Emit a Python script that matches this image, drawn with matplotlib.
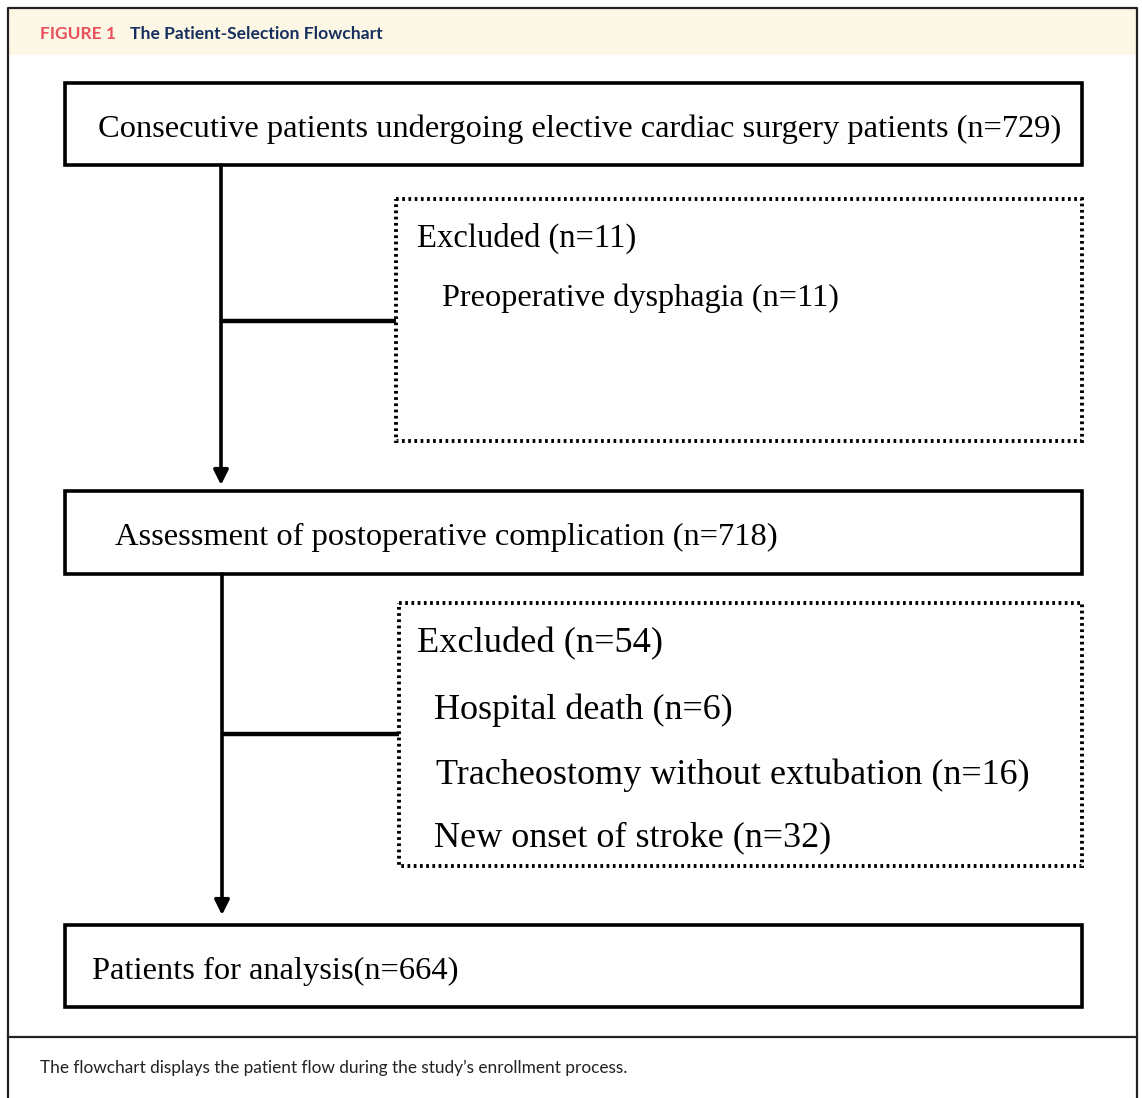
import matplotlib
matplotlib.use('Agg')
import matplotlib.pyplot as plt
from matplotlib.patches import Rectangle

# --- chart content ---
header_tag = "FIGURE 1"
header_title = "The Patient-Selection Flowchart"
caption = "The flowchart displays the patient flow during the study\u2019s enrollment process."

main_boxes = [
    "Consecutive patients undergoing elective cardiac surgery patients (n=729)",
    "Assessment of postoperative complication (n=718)",
    "Patients for analysis(n=664)",
]
excl_titles = ["Excluded (n=11)", "Excluded (n=54)"]
excl_items = [
    ["Preoperative dysphagia (n=11)"],
    ["Hospital death (n=6)",
     "Tracheostomy without extubation (n=16)",
     "New onset of stroke (n=32)"],
]

W, H = 1142, 1098
fig = plt.figure(figsize=(W / 100, H / 100), dpi=100)
ax = fig.add_axes([0, 0, 1, 1])
ax.set_xlim(0, W)
ax.set_ylim(H, 0)
ax.axis('off')

SERIF = 'Liberation Serif'
SANS = 'Lato'
DY = 4  # text vertical nudge

# outer frame + header band
ax.add_patch(Rectangle((8, 8), 1129, 47, facecolor='#fdf7e5', edgecolor='none', zorder=0))
ax.plot([8, 8, 1137, 1137], [H + 5, 8, 8, H + 5], color='#222222', lw=1.6, zorder=3)
ax.plot([8, 1137], [1037, 1037], color='#222222', lw=1.6)
ax.text(40, 34, header_tag, color='#e9505c', fontsize=12.5, fontweight='bold',
        family=SANS, va='center')
ax.text(130, 34, header_title, color='#17305e', fontsize=12.6, fontweight='bold',
        family=SANS, va='center')
ax.text(40, 1068, caption, color='#222222', fontsize=12.4, family=SANS, va='center')

# main boxes
box_y = [(83, 165), (491, 574), (925, 1007)]
box_tx = [98, 115, 92]
for (y0, y1), tx, label in zip(box_y, box_tx, main_boxes):
    ax.add_patch(Rectangle((65, y0), 1082 - 65, y1 - y0, facecolor='white',
                           edgecolor='black', lw=2.6, zorder=2))
    ax.text(tx, (y0 + y1) / 2 + 1 + DY, label, family=SERIF, fontsize=23.4,
            va='center', ha='left', zorder=3)

# exclusion boxes (dotted)
ex_box = [(396, 199, 441), (399, 603, 866)]
ex_title_y = [235, 641]
ex_title_size = [23.5, 26.2]
ex_item_pos = [[(442, 295)], [(434, 707), (436, 772), (434, 835)]]
ex_item_size = [23.2, 26]
for (x0, y0, y1), ty, tsz, title, items, pos, isz in zip(
        ex_box, ex_title_y, ex_title_size, excl_titles, excl_items, ex_item_pos, ex_item_size):
    ax.add_patch(Rectangle((x0, y0), 1082 - x0, y1 - y0, facecolor='none',
                           edgecolor='black', lw=2.8, linestyle=(0, (0.7, 0.9)), zorder=2))
    ax.text(417, ty + DY - 1, title, family=SERIF, fontsize=tsz, va='center')
    for (ix, iy), item in zip(pos, items):
        ax.text(ix, iy + DY - 1, item, family=SERIF, fontsize=isz, va='center')

# connectors
conn = [(221, 165, 485, 321, 396), (222, 574, 915, 734, 399)]
for x, ya, yb, yh, xe in conn:
    ax.annotate('', xy=(x, yb), xytext=(x, ya),
                arrowprops=dict(arrowstyle='-|>', color='black', lw=2.6,
                                mutation_scale=22, shrinkA=0, shrinkB=0))
    ax.plot([x, xe], [yh, yh], color='black', lw=3.2, solid_capstyle='butt')

fig.savefig('out.png', dpi=100)
